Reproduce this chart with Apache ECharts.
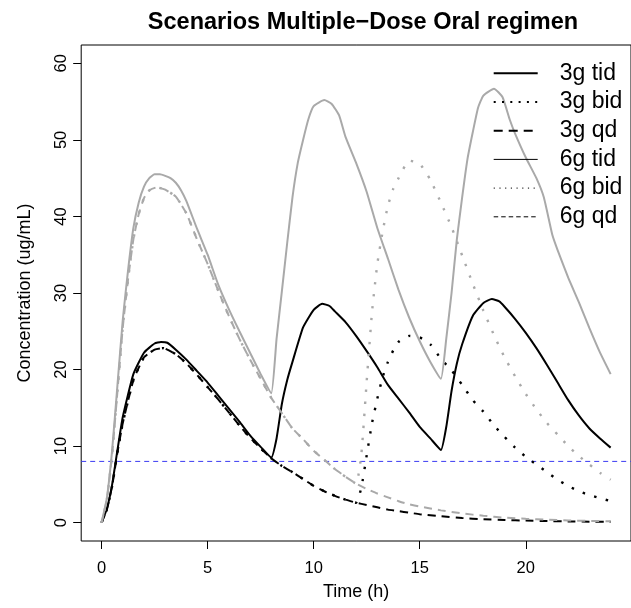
<!DOCTYPE html>
<html>
<head>
<meta charset="utf-8">
<script src="https://cdn.jsdelivr.net/npm/echarts@6.0.0/dist/echarts.min.js"></script>
<style>
  html, body { margin: 0; padding: 0; background: #fff; }
  #chart { width: 631px; height: 608px; }
</style>
</head>
<body>
<div id="chart"></div>
<script>
// ---- Data (time in h, concentration in ug/mL) ----
const xTicks = [0, 5, 10, 15, 20];
const yTicks = [0, 10, 20, 30, 40, 50, 60];
const seriesNames = ['3g tid', '3g bid', '3g qd', '6g tid', '6g bid', '6g qd'];
const mic = 8;
const xRange = [-0.96, 24.96];
const yRange = [-2.4, 62.4];

const tid3Time = [0,0.25,0.5,0.75,1,1.5,2,2.5,2.8,3.1,3.5,4,4.5,5,5.5,6,6.5,7,7.5,8,8.25,8.5,8.75,9,9.5,10,10.4,10.75,11,11.5,12,12.5,13,13.5,14,14.5,15,15.5,16,16.25,16.5,16.75,17,17.5,18,18.4,18.75,19,19.5,20,20.5,21,21.5,22,22.5,23,23.5,24];
const tid3Conc = [0,1.8,5.0,9.5,13.8,19.4,22.2,23.4,23.6,23.5,22.6,21.3,19.8,18.3,16.6,14.9,13.2,11.4,9.9,8.5,11.0,15.5,18.6,21.0,25.5,27.8,28.6,28.3,27.6,26.2,24.4,22.4,20.3,18.0,16.2,14.4,12.5,11.0,9.5,12.5,17.2,20.8,23.3,27.0,28.7,29.2,28.9,28.2,26.6,24.8,22.8,20.6,18.3,16.0,14.0,12.3,11.0,9.8];

const bid3Time = [0,0.25,0.5,0.75,1,1.5,2,2.5,2.9,3.5,4,4.5,5,5.5,6,6.5,7,7.5,8,8.5,9,9.5,10,10.5,11,11.5,12,12.25,12.5,12.75,13,13.25,13.5,13.75,14,14.5,15,15.5,16,16.5,17,17.5,18,18.5,19,19.5,20,20.5,21,21.5,22,22.5,23,23.5,24];
const bid3Conc = [0,1.7,4.8,9.2,13.0,18.6,21.6,22.6,22.8,22.0,20.8,19.3,17.7,16.1,14.4,12.7,11.1,9.7,8.4,7.4,6.6,5.7,4.8,4.1,3.5,3.0,2.6,4.6,8.8,13.0,16.2,19.0,21.0,22.5,23.6,24.4,24.2,23.3,21.4,19.9,18.0,16.0,14.5,12.7,11.2,9.8,8.6,7.6,6.6,5.6,4.8,4.1,3.6,3.2,2.8];

const qd3Time = [0,0.25,0.5,0.75,1,1.5,2,2.5,2.9,3.5,4,4.5,5,5.5,6,6.5,7,7.5,8,8.5,9,9.5,10,10.5,11,11.5,12,12.5,13,13.5,14,14.5,15,16,17,18,19,20,21,22,23,24];
const qd3Conc = [0,1.7,4.8,9.2,13.0,18.6,21.6,22.6,22.8,22.0,20.8,19.3,17.7,16.1,14.4,12.7,11.1,9.7,8.4,7.4,6.6,5.7,4.8,4.1,3.5,3.0,2.6,2.3,2.0,1.7,1.5,1.3,1.1,0.85,0.6,0.45,0.35,0.27,0.2,0.16,0.12,0.1];

const tid6Time = [0,0.25,0.5,0.75,1,1.25,1.5,1.75,2,2.25,2.5,2.75,3,3.25,3.5,3.75,4,4.5,5,5.5,6,6.5,7,7.5,8,8.25,8.5,8.75,9,9.25,9.5,9.75,10,10.5,10.85,11.2,11.5,12,12.5,13,13.5,14,14.5,15,15.5,16,16.25,16.5,16.75,17,17.25,17.5,17.75,18,18.5,18.9,19.25,19.5,20,20.5,20.85,21.25,21.5,22,22.5,23,23.5,24];
const tid6Conc = [0,3.2,9.5,18.0,26.5,33.0,38.5,41.8,43.9,45.0,45.5,45.5,45.3,45.0,44.4,43.4,42.0,38.4,35.0,31.1,27.9,25.0,22.2,19.4,16.9,24.0,30.2,36.5,42.5,47.0,50.0,52.7,54.4,55.2,54.7,53.2,50.4,47.0,43.2,38.5,34.5,30.4,26.8,23.7,21.0,18.8,24.0,30.0,37.0,42.5,47.5,51.0,54.2,55.8,56.7,55.6,52.6,50.8,47.7,45.0,42.5,37.6,35.6,32.0,28.8,25.4,22.2,19.4];

const bid6Time = [0,0.25,0.5,0.75,1,1.25,1.5,1.75,2,2.25,2.6,3,3.5,4,4.5,5,5.5,6,6.5,7,7.5,8,8.5,9,9.5,10,10.5,11,11.5,12,12.25,12.5,12.75,13,13.25,13.5,13.75,14,14.5,15,15.5,16,16.5,17,17.5,18,18.5,19,19.5,20,20.5,21,21.5,22,22.5,23,23.5,24];
const bid6Conc = [0,3.0,9.0,17.2,25.5,31.8,37.0,40.3,42.4,43.4,43.8,43.5,42.6,40.4,37.0,33.8,30.3,27.0,24.0,21.3,18.8,16.3,14.3,12.3,10.9,9.4,8.2,7.0,6.0,5.1,9.0,18.5,27.5,33.8,38.0,41.4,43.6,45.0,47.3,46.9,44.8,41.8,38.6,34.9,31.2,27.7,24.5,21.6,19.1,16.8,14.8,13.0,11.5,10.0,8.7,7.6,6.5,5.6];

const qd6Time = [0,0.25,0.5,0.75,1,1.25,1.5,1.75,2,2.25,2.6,3,3.5,4,4.5,5,5.5,6,6.5,7,7.5,8,8.5,9,9.5,10,10.5,11,11.5,12,12.5,13,13.5,14,14.5,15,16,17,18,19,20,21,22,23,24];
const qd6Conc = [0,3.0,9.0,17.2,25.5,31.8,37.0,40.3,42.4,43.4,43.8,43.5,42.6,40.4,37.0,33.8,30.3,27.0,24.0,21.3,18.8,16.3,14.3,12.3,10.9,9.4,8.2,7.0,6.0,5.1,4.4,3.8,3.3,2.8,2.4,2.1,1.6,1.2,0.9,0.65,0.5,0.38,0.28,0.22,0.17];

// ---- Build chart ----
const FONT = 'Liberation Sans, Arial, Helvetica, sans-serif';
const GRAY = '#a9a9a9';
const BLUE = '#3a3af2';
const pairs = (t, c) => t.map((v, i) => [v, c[i]]);

const styles = [
  { color: '#000', width: 2, type: 'solid' },
  { color: '#000', width: 2.4, type: [2.4, 9.6] },
  { color: '#000', width: 2, type: [8, 6] },
  { color: GRAY, width: 2, type: 'solid' },
  { color: GRAY, width: 2.4, type: [2.4, 9.6] },
  { color: GRAY, width: 2, type: [8, 6] }
];
const legendStyles = [
  { color: '#000', width: 2, type: 'solid' },
  { color: '#000', width: 2, type: [2, 6.3] },
  { color: '#000', width: 2, type: [9, 6] },
  { color: '#000', width: 1, type: 'solid' },
  { color: '#000', width: 1, type: [1.2, 4.5] },
  { color: '#000', width: 1, type: [4.5, 3] }
];
const dataSets = [
  pairs(tid3Time, tid3Conc), pairs(bid3Time, bid3Conc), pairs(qd3Time, qd3Conc),
  pairs(tid6Time, tid6Conc), pairs(bid6Time, bid6Conc), pairs(qd6Time, qd6Conc)
];

const series = seriesNames.map((name, i) => ({
  type: 'line',
  name: name,
  data: dataSets[i],
  symbol: 'none',
  showSymbol: false,
  smooth: 0.15,
  lineStyle: styles[i],
  itemStyle: { color: styles[i].color },
  z: 3,
  animation: false
}));
// threshold line (h = 8) across the whole plot box
series.push({
  type: 'line',
  name: 'threshold',
  data: [[xRange[0], mic], [xRange[1], mic]],
  symbol: 'none',
  showSymbol: false,
  silent: true,
  lineStyle: { color: BLUE, width: 1, type: [5, 4] },
  itemStyle: { color: BLUE },
  z: 2,
  animation: false
});

const chart = echarts.init(document.getElementById('chart'), null, { renderer: 'canvas' });
chart.setOption({
  animation: false,
  backgroundColor: '#fff',
  title: {
    text: 'Scenarios Multiple\u2212Dose Oral regimen',
    left: 358, top: 6, textAlign: 'center',
    textStyle: { fontFamily: FONT, fontSize: 23.5, fontWeight: 'bold', color: '#000' }
  },
  grid: {
    left: 81.2, top: 45, width: 553.1, height: 496,
    show: true, borderColor: '#000', borderWidth: 1, backgroundColor: 'transparent'
  },
  legend: {
    orient: 'vertical', left: 492.7, top: 61.8, padding: 0,
    itemWidth: 44, itemHeight: 23, itemGap: 5.7,
    selectedMode: false,
    textStyle: { fontFamily: FONT, fontSize: 23, color: '#000', lineHeight: 23, padding: [0, 0, 0, 17] },
    data: seriesNames.map((n, i) => ({ name: n, lineStyle: legendStyles[i], itemStyle: { opacity: 0 } }))
  },
  xAxis: {
    type: 'value', min: xRange[0], max: xRange[1],
    name: 'Time (h)', nameLocation: 'middle', nameGap: 42,
    nameTextStyle: { fontFamily: FONT, fontSize: 18, color: '#000' },
    axisLine: { show: false, onZero: false },
    axisTick: { show: true, inside: false, length: 8, customValues: xTicks, lineStyle: { color: '#000', width: 1 } },
    axisLabel: { customValues: xTicks, margin: 19, fontFamily: FONT, fontSize: 16.5, color: '#000' },
    splitLine: { show: false }
  },
  yAxis: {
    type: 'value', min: yRange[0], max: yRange[1],
    name: 'Concentration (ug/mL)', nameLocation: 'middle', nameGap: 47, nameRotate: 90,
    nameTextStyle: { fontFamily: FONT, fontSize: 18, color: '#000' },
    axisLine: { show: false, onZero: false },
    axisTick: { show: true, inside: false, length: 8, customValues: yTicks, lineStyle: { color: '#000', width: 1 } },
    axisLabel: { customValues: yTicks, rotate: 90, margin: 11, fontFamily: FONT, fontSize: 16.5, color: '#000' },
    splitLine: { show: false }
  },
  series: series
});
</script>
</body>
</html>
